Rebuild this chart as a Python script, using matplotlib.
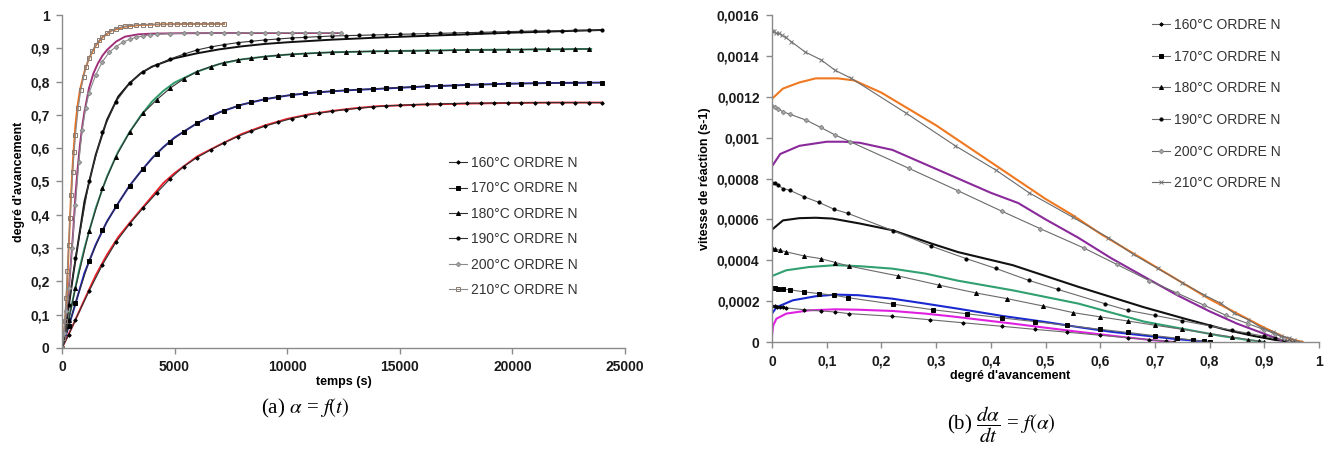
import matplotlib.pyplot as plt
from matplotlib.ticker import MultipleLocator, FuncFormatter

plt.rcParams['font.family'] = ['Liberation Sans', 'DejaVu Sans']
plt.rcParams['mathtext.fontset'] = 'stix'

labels = ['160°C ORDRE N', '170°C ORDRE N', '180°C ORDRE N',
          '190°C ORDRE N', '200°C ORDRE N', '210°C ORDRE N']

# ---------------- (a) alpha = f(t) ----------------
# experimental curves (coloured lines)
t_160 = [0, 500, 1000, 1500, 2000, 2500, 3000, 3500, 4000, 4500, 5000, 6000, 7000, 8000,
         9000, 10000, 11000, 12000, 13000, 14000, 16000, 18000, 20000, 22000, 24000]
a_160 = [0, 0.07, 0.145, 0.218, 0.28, 0.333, 0.375, 0.415, 0.455, 0.495, 0.525, 0.575, 0.61,
         0.643, 0.668, 0.688, 0.702, 0.712, 0.72, 0.726, 0.731, 0.734, 0.736, 0.737, 0.737]
t_170 = t_160
a_170 = [0, 0.11, 0.225, 0.31, 0.38, 0.435, 0.487, 0.53, 0.57, 0.603, 0.632, 0.675, 0.708,
         0.731, 0.747, 0.758, 0.766, 0.771, 0.775, 0.778, 0.785, 0.79, 0.794, 0.796, 0.797]
t_180 = [0, 250, 500, 750, 1000, 1500, 2000, 2500, 3000, 3500, 4000, 4500, 5000, 6000, 7000,
         8000, 9000, 10000, 11000, 12000, 14000, 16000, 18000, 20000, 22000, 23500]
a_180 = [0, 0.07, 0.15, 0.23, 0.3, 0.42, 0.515, 0.59, 0.648, 0.698, 0.74, 0.772, 0.797, 0.83,
         0.853, 0.867, 0.875, 0.881, 0.885, 0.888, 0.891, 0.893, 0.895, 0.896, 0.897, 0.898]
t_190 = [0, 250, 500, 750, 1000, 1500, 2000, 2500, 3000, 3500, 4000, 5000, 6000, 7000, 8000,
         9000, 10000, 12000, 14000, 16000, 18000, 20000, 22000, 24000]
a_190 = [0, 0.1, 0.22, 0.33, 0.44, 0.58, 0.685, 0.755, 0.795, 0.825, 0.845, 0.87, 0.885, 0.897,
         0.906, 0.913, 0.918, 0.926, 0.932, 0.937, 0.942, 0.947, 0.951, 0.955]
t_200 = [0, 100, 200, 300, 400, 500, 600, 700, 800, 900, 1000, 1200, 1400, 1600, 1800, 2000,
         2400, 2800, 3400, 4000, 5000, 7000, 9000, 11000, 12400]
a_200 = [0, 0.04, 0.1, 0.17, 0.26, 0.35, 0.46, 0.54, 0.61, 0.665, 0.71, 0.78, 0.825, 0.855,
         0.878, 0.895, 0.92, 0.935, 0.942, 0.944, 0.945, 0.946, 0.946, 0.946, 0.946]
t_210 = [0, 100, 200, 300, 400, 500, 600, 700, 800, 1000, 1200, 1500, 1800, 2200, 2800, 3500,
         4500, 5500, 6500, 7200]
a_210 = [0, 0.05, 0.14, 0.3, 0.455, 0.575, 0.67, 0.73, 0.775, 0.83, 0.87, 0.908, 0.933, 0.953,
         0.965, 0.97, 0.972, 0.973, 0.973, 0.973]

# model "ORDRE N" (marked lines)
tm_slow = [0, 300, 600, 1200, 1800, 2400, 3000, 3600, 4200, 4800, 5400, 6000, 6600, 7200, 7800,
           8400, 9000, 9600, 10200, 10800, 11400, 12000, 12600, 13200, 13800, 14400, 15000,
           15600, 16200, 16800, 17400, 18000, 18600, 19200, 19800, 20400, 21000, 21600, 22200,
           22800, 23400, 24000]
am_160 = [0, 0.04, 0.085, 0.17, 0.25, 0.318, 0.372, 0.42, 0.465, 0.508, 0.545, 0.572, 0.595,
          0.616, 0.635, 0.651, 0.666, 0.678, 0.689, 0.698, 0.705, 0.711, 0.716, 0.72, 0.724,
          0.727, 0.729, 0.731, 0.732, 0.733, 0.734, 0.735, 0.735, 0.736, 0.736, 0.736, 0.737,
          0.737, 0.737, 0.737, 0.737, 0.737]
am_170 = [0, 0.065, 0.135, 0.26, 0.355, 0.425, 0.487, 0.538, 0.584, 0.62, 0.65, 0.675, 0.695,
          0.713, 0.727, 0.738, 0.747, 0.754, 0.76, 0.765, 0.768, 0.771, 0.774, 0.776, 0.778,
          0.78, 0.782, 0.784, 0.786, 0.787, 0.788, 0.79, 0.791, 0.792, 0.793, 0.794, 0.795,
          0.795, 0.796, 0.796, 0.797, 0.797]
am_180 = [0, 0.085, 0.18, 0.35, 0.48, 0.575, 0.648, 0.705, 0.745, 0.78, 0.808, 0.83, 0.845,
          0.857, 0.865, 0.87, 0.875, 0.879, 0.882, 0.884, 0.886, 0.888, 0.889, 0.89, 0.891,
          0.891, 0.892, 0.892, 0.893, 0.893, 0.894, 0.895, 0.895, 0.895, 0.896, 0.896, 0.897,
          0.897, 0.897, 0.898, 0.898]
am_190 = [0, 0.13, 0.27, 0.5, 0.65, 0.74, 0.795, 0.83, 0.85, 0.868, 0.882, 0.895, 0.904, 0.911,
          0.917, 0.921, 0.925, 0.928, 0.931, 0.933, 0.935, 0.937, 0.938, 0.939, 0.94, 0.941,
          0.942, 0.943, 0.944, 0.945, 0.946, 0.947, 0.948, 0.949, 0.95, 0.951, 0.952, 0.952,
          0.953, 0.954, 0.954, 0.955]
tm_200 = [0, 100, 200, 300, 450, 600, 750, 900, 1050, 1200, 1500, 1800, 2100, 2400, 2700, 3000,
          3300, 3600, 3900, 4200, 4800, 5400, 6000, 6600, 7200, 7800, 8400, 9000, 9600, 10200,
          10800, 11400, 12000, 12400]
am_200 = [0, 0.045, 0.11, 0.18, 0.3, 0.43, 0.56, 0.655, 0.72, 0.765, 0.82, 0.86, 0.888, 0.905,
          0.918, 0.927, 0.933, 0.937, 0.94, 0.942, 0.944, 0.945, 0.946, 0.946, 0.946, 0.946,
          0.947, 0.947, 0.947, 0.947, 0.947, 0.947, 0.947, 0.947]
tm_210 = [0, 60, 120, 180, 240, 300, 360, 420, 480, 540, 600, 720, 840, 960, 1080, 1200, 1350,
          1500, 1650, 1800, 2000, 2200, 2400, 2600, 2800, 3000, 3300, 3600, 3900, 4200, 4500,
          4800, 5100, 5400, 5700, 6000, 6300, 6600, 6900, 7200]
am_210 = [0, 0.03, 0.08, 0.15, 0.23, 0.31, 0.39, 0.46, 0.53, 0.59, 0.64, 0.72, 0.775, 0.815,
          0.845, 0.87, 0.893, 0.91, 0.924, 0.935, 0.945, 0.953, 0.959, 0.963, 0.966, 0.968,
          0.97, 0.971, 0.971, 0.972, 0.972, 0.972, 0.973, 0.973, 0.973, 0.973, 0.973, 0.973,
          0.973, 0.973]

# ---------------- (b) da/dt = f(alpha) ----------------
# experimental
x_r160 = [0, 0.002, 0.008, 0.026, 0.068, 0.116, 0.158, 0.22, 0.28, 0.33, 0.44, 0.56, 0.64, 0.7, 0.735]
r_160 = [0.000033, 0.00008, 0.000114, 0.000139, 0.000155, 0.00016, 0.000158, 0.000152,
         0.000139, 0.000125, 0.00009, 0.00005, 0.000025, 0.000008, 0.0]
x_r170 = [0, 0.008, 0.038, 0.08, 0.116, 0.158, 0.22, 0.28, 0.34, 0.42, 0.5, 0.56, 0.62, 0.68,
          0.74, 0.78, 0.8]
r_170 = [0.000139, 0.00017, 0.000204, 0.000224, 0.000232, 0.000229, 0.000212, 0.000188,
         0.000163, 0.000128, 0.000098, 0.000073, 0.00005, 0.000032, 0.000014, 0.000005, 0.0]
x_r180 = [0, 0.026, 0.068, 0.116, 0.16, 0.22, 0.28, 0.34, 0.44, 0.56, 0.68, 0.76, 0.82, 0.87, 0.9]
r_180 = [0.000323, 0.000351, 0.000367, 0.000376, 0.000371, 0.000359, 0.000335, 0.0003,
         0.000253, 0.000188, 0.0001, 0.00006, 0.00003, 0.00001, 0.0]
x_r190 = [0, 0.02, 0.05, 0.08, 0.11, 0.16, 0.22, 0.29, 0.34, 0.44, 0.56, 0.68, 0.76, 0.83,
          0.88, 0.92, 0.955]
r_190 = [0.00055, 0.000595, 0.000606, 0.000608, 0.000604, 0.00058, 0.000547, 0.000483, 0.00044,
         0.000376, 0.00027, 0.00017, 0.00011, 0.00006, 0.00003, 0.00001, 0.0]
x_r200 = [0, 0.015, 0.05, 0.1, 0.13, 0.16, 0.22, 0.28, 0.34, 0.4, 0.45, 0.5, 0.56, 0.62, 0.68,
          0.74, 0.8, 0.85, 0.9, 0.93, 0.95]
r_200 = [0.00086, 0.00092, 0.00096, 0.00098, 0.00098, 0.000975, 0.00094, 0.00087, 0.0008,
         0.00073, 0.00068, 0.0006, 0.00051, 0.00041, 0.00032, 0.00023, 0.00015, 0.00009,
         0.00004, 0.00001, 0.0]
x_r210 = [0, 0.02, 0.05, 0.08, 0.12, 0.15, 0.2, 0.25, 0.3, 0.35, 0.4, 0.45, 0.5, 0.55, 0.6,
          0.65, 0.7, 0.75, 0.8, 0.85, 0.9, 0.94, 0.97]
r_210 = [0.00119, 0.00124, 0.00127, 0.00129, 0.00129, 0.00128, 0.00122, 0.00114, 0.00106,
         0.00097, 0.00088, 0.00079, 0.0007, 0.00062, 0.00053, 0.00045, 0.00037, 0.00029,
         0.00021, 0.00014, 0.00007, 0.00002, 0.0]

# model "ORDRE N"
xm_160 = [0, 0.005, 0.01, 0.014, 0.02, 0.026, 0.059, 0.089, 0.116, 0.14, 0.219, 0.288, 0.35,
          0.42, 0.48, 0.54, 0.6, 0.65, 0.69, 0.72, 0.735]
rm_160 = [0.000175, 0.000175, 0.000173, 0.000171, 0.000169, 0.000167, 0.000158, 0.000152,
          0.000147, 0.000139, 0.000126, 0.000109, 0.000094, 0.000077, 0.000062, 0.000048,
          0.000033, 0.000021, 0.000011, 0.000004, 0.0]
xm_170 = [0, 0.005, 0.011, 0.02, 0.032, 0.059, 0.086, 0.113, 0.139, 0.222, 0.294, 0.357,
          0.42, 0.48, 0.54, 0.6, 0.65, 0.7, 0.74, 0.77, 0.79, 0.8]
rm_170 = [0.000266, 0.000265, 0.000261, 0.000258, 0.000256, 0.000245, 0.000237, 0.000229,
          0.000217, 0.000185, 0.000158, 0.000138, 0.000118, 0.0001, 0.000081, 0.000062,
          0.000047, 0.000031, 0.000019, 0.000009, 0.000003, 0.0]
xm_180 = [0, 0.005, 0.014, 0.026, 0.059, 0.089, 0.116, 0.14, 0.231, 0.306, 0.373, 0.43, 0.496,
          0.55, 0.6, 0.65, 0.7, 0.75, 0.8, 0.84, 0.87, 0.89, 0.9]
rm_180 = [0.00046, 0.000457, 0.000449, 0.000441, 0.000421, 0.000408, 0.000389, 0.000372,
          0.000323, 0.000278, 0.00024, 0.000212, 0.000176, 0.000144, 0.000123, 0.000103,
          0.000082, 0.000062, 0.000041, 0.000025, 0.000012, 0.000004, 0.0]
xm_190 = [0, 0.005, 0.011, 0.02, 0.032, 0.059, 0.086, 0.113, 0.139, 0.222, 0.291, 0.355, 0.409,
          0.469, 0.523, 0.608, 0.65, 0.7, 0.75, 0.8, 0.84, 0.87, 0.9, 0.92, 0.935, 0.945, 0.955]
rm_190 = [0.00078, 0.000776, 0.000767, 0.000751, 0.000743, 0.00071, 0.000683, 0.00065, 0.000629,
          0.000544, 0.000469, 0.000408, 0.00036, 0.000302, 0.000257, 0.000188, 0.000155,
          0.00013, 0.000104, 0.000079, 0.000058, 0.000043, 0.000028, 0.000018, 0.00001,
          0.000005, 0.0]
xm_200 = [0, 0.005, 0.011, 0.02, 0.032, 0.062, 0.089, 0.116, 0.143, 0.25, 0.34, 0.42, 0.49,
          0.57, 0.63, 0.69, 0.74, 0.79, 0.83, 0.87, 0.9, 0.92, 0.935, 0.945]
rm_200 = [0.001156, 0.00115, 0.00114, 0.001127, 0.001115, 0.001086, 0.00105, 0.001012, 0.00098,
          0.00085, 0.00074, 0.00064, 0.000555, 0.00046, 0.00038, 0.0003, 0.00024, 0.00018,
          0.00013, 0.00009, 0.00006, 0.00004, 0.00002, 0.0]
xm_210 = [0, 0.003, 0.008, 0.012, 0.018, 0.025, 0.035, 0.06, 0.09, 0.115, 0.145, 0.245, 0.335,
          0.41, 0.47, 0.55, 0.615, 0.66, 0.705, 0.75, 0.79, 0.82, 0.845, 0.87, 0.895, 0.915,
          0.93, 0.945, 0.955, 0.965]
rm_210 = [0.00152, 0.00152, 0.00151, 0.00151, 0.0015, 0.00149, 0.00147, 0.00142, 0.00138,
          0.00133, 0.00129, 0.00112, 0.00096, 0.00084, 0.00073, 0.00061, 0.00051, 0.00043,
          0.00036, 0.00029, 0.00023, 0.00019, 0.00014, 0.00011, 0.00007, 0.00005, 0.00003,
          0.00002, 0.00001, 0.0]

comma = FuncFormatter(lambda v, p: ('%g' % v).replace('.', ','))


def style_axes(ax):
    for s in ['top', 'right']:
        ax.spines[s].set_visible(False)
    for s in ['left', 'bottom']:
        ax.spines[s].set_color('#8a8a8a')
        ax.spines[s].set_linewidth(1.0)
    ax.tick_params(direction='out', length=4, width=1, color='#8a8a8a', labelsize=10, pad=5)
    for lab in ax.get_xticklabels() + ax.get_yticklabels():
        lab.set_fontweight('bold')
        lab.set_color('#1a1a1a')
    ax.xaxis.set_major_formatter(comma)
    ax.yaxis.set_major_formatter(comma)


fig = plt.figure(figsize=(13.32, 4.63), dpi=100)

# ---- left chart
ax1 = fig.add_axes([0.0465, 0.2484, 0.4227, 0.7192])
exp_left = [(t_160, a_160, '#e8202a'), (t_170, a_170, '#1a1acc'), (t_180, a_180, '#2e9a6a'),
            (t_190, a_190, '#111111'), (t_200, a_200, '#a0307a'), (t_210, a_210, '#e87020')]
for t, a, c in exp_left:
    ax1.plot(t, a, color=c, lw=1.4)

mod_left = [(tm_slow, am_160, 'D', 1.8, 'k', 'k', '#333333'),
            (tm_slow, am_170, 's', 2.5, 'k', 'k', '#333333'),
            (tm_slow[:41], am_180, '^', 2.9, 'k', 'k', '#333333'),
            (tm_slow, am_190, 'o', 2.3, 'k', 'k', '#333333'),
            (tm_200, am_200, 'D', 2.3, '#a8a8a8', '#888888', '#8a8a8a'),
            (tm_210, am_210, 's', 3.0, 'none', '#8a7a70', '#8a8a8a')]
h1 = []
for t, a, m, ms, fc, ec, lc in mod_left:
    h, = ax1.plot(t, a, color=lc, lw=0.8, marker=m, ms=ms, mfc=fc, mec=ec, mew=0.7)
    h1.append(h)

ax1.set_xlim(0, 25000)
ax1.set_ylim(0, 1)
ax1.xaxis.set_major_locator(MultipleLocator(5000))
ax1.yaxis.set_major_locator(MultipleLocator(0.1))
style_axes(ax1)
ax1.set_xlabel('temps (s)', fontsize=9, fontweight='bold', labelpad=1)
ax1.set_ylabel("degré d'avancement", fontsize=9, fontweight='bold')
ax1.legend(h1, labels, loc='upper left', bbox_to_anchor=(449 / 1332, 1 - 156 / 463),
           bbox_transform=fig.transFigure, frameon=False, fontsize=10, handlelength=1.3,
           handletextpad=0.3, labelspacing=0.82, borderpad=0, borderaxespad=0,
           labelcolor='#333333')

# ---- right chart
ax2 = fig.add_axes([0.5796, 0.2613, 0.4107, 0.7063])
exp_right = [(x_r160, r_160, '#e020e0'), (x_r170, r_170, '#1a2ad0'), (x_r180, r_180, '#30a070'),
             (x_r190, r_190, '#111111'), (x_r200, r_200, '#8a2a9a'), (x_r210, r_210, '#f07820')]
for x, r, c in exp_right:
    ax2.plot(x, r, color=c, lw=1.5)

mod_right = [(xm_160, rm_160, 'D', 1.8, 'k', 'k'),
             (xm_170, rm_170, 's', 2.5, 'k', 'k'),
             (xm_180, rm_180, '^', 2.9, 'k', 'k'),
             (xm_190, rm_190, 'o', 2.3, 'k', 'k'),
             (xm_200, rm_200, 'D', 2.3, '#a8a8a8', '#888888'),
             (xm_210, rm_210, 'x', 3.5, '#777777', '#777777')]
h2 = []
for x, r, m, ms, fc, ec in mod_right:
    h, = ax2.plot(x, r, color='#6a6a6a', lw=0.8, marker=m, ms=ms, mfc=fc, mec=ec, mew=0.7)
    h2.append(h)

ax2.set_xlim(0, 1)
ax2.set_ylim(0, 0.0016)
ax2.xaxis.set_major_locator(MultipleLocator(0.1))
ax2.yaxis.set_major_locator(MultipleLocator(0.0002))
style_axes(ax2)
ax2.set_xlabel("degré d'avancement", fontsize=9, fontweight='bold', labelpad=1)
ax2.xaxis.set_label_coords(0.435, -0.085)
ax2.set_ylabel('vitesse de réaction (s-1)', fontsize=9, fontweight='bold')
ax2.legend(h2, labels, loc='upper left', bbox_to_anchor=(1152 / 1332, 1 - 18 / 463),
           bbox_transform=fig.transFigure, frameon=False, fontsize=10, handlelength=1.3,
           handletextpad=0.3, labelspacing=1.27, borderpad=0, borderaxespad=0,
           labelcolor='#333333')

# captions
fig.text(0.229, 0.118, r'(a) $\alpha$ = $f(t)$', ha='center', va='center', fontsize=15,
         family='Liberation Serif')
fig.text(0.752, 0.082, r'(b) $\dfrac{d\alpha}{dt}$ = $f(\alpha)$', ha='center', va='center',
         fontsize=15, family='Liberation Serif')

fig.savefig('out.png', dpi=100)
